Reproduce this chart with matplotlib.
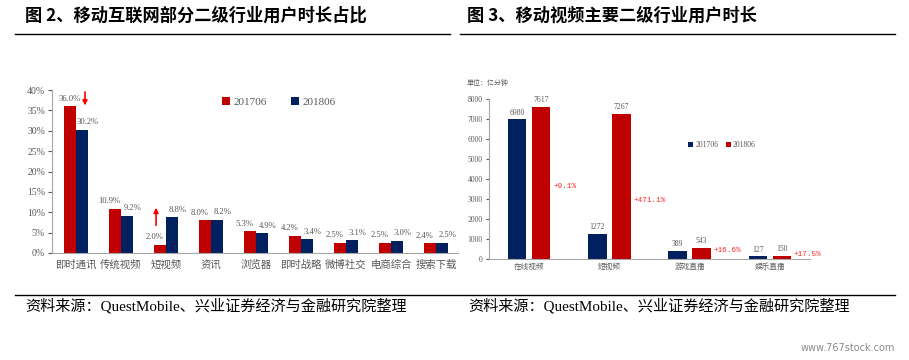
import matplotlib
matplotlib.use('Agg')
import matplotlib.pyplot as plt
from matplotlib.lines import Line2D
import numpy as np

plt.rcParams['font.family'] = ['Noto Sans CJK SC', 'DejaVu Sans']

# left chart data: share of time by sub-industry
cats_l = ['即时通讯', '传统视频', '短视频', '资讯', '浏览器', '即时战略', '微博社交', '电商综合', '搜索下载']
share_1706 = [36.0, 10.9, 2.0, 8.0, 5.3, 4.2, 2.5, 2.5, 2.4]
share_1806 = [30.2, 9.2, 8.8, 8.2, 4.9, 3.4, 3.1, 3.0, 2.5]

# right chart data: video sub-industry time (100M minutes)
cats_r = ['在线视频', '短视频', '游戏直播', '娱乐直播']
time_1706 = [6980, 1272, 389, 127]
time_1806 = [7617, 7267, 543, 150]
growth = ['+9.1%', '+471.1%', '+16.6%', '+17.5%']
growth_y = [3650, 2900, 450, 250]

RED = '#C00000'
NAVY = '#002060'
GRAY = '#595959'
W, H = 909, 360

fig = plt.figure(figsize=(W / 100, H / 100), dpi=100)
fig.patch.set_facecolor('white')

def box(l, t, r, b):
    return [l / W, 1 - b / H, (r - l) / W, (b - t) / H]

def hline(x0, x1, y, lw=1.0):
    fig.add_artist(Line2D([x0 / W, x1 / W], [1 - y / H, 1 - y / H], color='black', lw=lw))

# titles, rules, sources
fig.text(25 / W, 1 - 16 / H, '图 2、移动互联网部分二级行业用户时长占比', fontsize=12.4,
         fontweight='bold', va='center', ha='left')
fig.text(467 / W, 1 - 16 / H, '图 3、移动视频主要二级行业用户时长', fontsize=12.4,
         fontweight='bold', va='center', ha='left')
hline(15, 450, 34)
hline(460, 895, 34)
hline(15, 895, 295)
src = '资料来源：QuestMobile、兴业证券经济与金融研究院整理'
fig.text(25 / W, 1 - 306 / H, src, fontsize=10.9, va='center', ha='left',
         family=['Liberation Serif', 'Noto Sans CJK SC'])
fig.text(468 / W, 1 - 306 / H, src, fontsize=10.9, va='center', ha='left',
         family=['Liberation Serif', 'Noto Sans CJK SC'])
fig.text(895 / W, 1 - 348 / H, 'www.767stock.com', fontsize=7, color='#8a8a8a',
         va='center', ha='right', family='DejaVu Sans')

# ---------- left chart ----------
ax = fig.add_axes(box(52, 90, 458, 253))
x = np.arange(len(cats_l))
w = 0.27
b1 = ax.bar(x - 0.14, [v / 100 for v in share_1706], w, color=RED, label='201706')
b2 = ax.bar(x + 0.14, [v / 100 for v in share_1806], w, color=NAVY, label='201806')
for bars, vals, dx in ((b1, share_1706, -3.6), (b2, share_1806, 3.6)):
    for i, (r, v) in enumerate(zip(bars, vals)):
        off = 0 if i == 0 and dx < 0 else dx
        t = ax.annotate('%.1f%%' % v, (r.get_x() + r.get_width() / 2, r.get_height()),
                        xytext=(off, 2.5), textcoords='offset points', ha='center', va='bottom',
                        fontsize=6.2, color=GRAY, family='Liberation Serif')
        if i == len(vals) - 1:
            t.set_clip_on(True)
ax.set_xlim(-0.533, 8.49)
ax.set_ylim(0, 0.40)
ax.set_yticks(np.arange(0, 0.41, 0.05))
ax.set_yticklabels(['%d%%' % v for v in range(0, 41, 5)], family='Liberation Serif')
ax.set_xticks(x)
ax.set_xticklabels(cats_l)
ax.tick_params(axis='y', labelsize=7, colors=GRAY, length=3, direction='out', pad=2)
ax.tick_params(axis='x', labelsize=7.5, colors=GRAY, length=0, pad=5)
for s in ('top', 'right'):
    ax.spines[s].set_visible(False)
for s in ('left', 'bottom'):
    ax.spines[s].set_color('#a6a6a6')
ax.annotate('', xy=(0.2, 0.355), xytext=(0.2, 0.402),
            arrowprops=dict(arrowstyle='-|>', color='red', lw=1.2, mutation_scale=7),
            annotation_clip=False)
ax.annotate('', xy=(1.78, 0.118), xytext=(1.78, 0.061),
            arrowprops=dict(arrowstyle='-|>', color='red', lw=1.2, mutation_scale=7))
ax.legend(loc='upper left', bbox_to_anchor=(0.395, 1.02), ncol=2, frameon=False,
          handlelength=0.7, handleheight=0.7, handletextpad=0.3, columnspacing=2.2,
          prop={'family': 'Liberation Serif', 'size': 8}, labelcolor=GRAY)

# ---------- right chart ----------
ax2 = fig.add_axes(box(489, 99, 810, 259))
xr = np.arange(len(cats_r))
w2 = 0.23
c1 = ax2.bar(xr - 0.15, time_1706, w2, color=NAVY, label='201706')
c2 = ax2.bar(xr + 0.15, time_1806, w2, color=RED, label='201806')
for bars, vals in ((c1, time_1706), (c2, time_1806)):
    for r, v in zip(bars, vals):
        ax2.annotate('%d' % v, (r.get_x() + r.get_width() / 2, r.get_height()),
                     xytext=(0, 2), textcoords='offset points', ha='center', va='bottom',
                     fontsize=5.5, color=GRAY, family='Liberation Serif')
for i, (g, gy) in enumerate(zip(growth, growth_y)):
    ax2.text(i + 0.3, gy, g, fontsize=5.5, color='#FF2020', ha='left', va='center',
             family='Liberation Mono')
ax2.set_xlim(-0.5, 3.5)
ax2.set_ylim(0, 8000)
ax2.set_yticks(np.arange(0, 8001, 1000))
ax2.set_xticks(xr)
ax2.set_xticklabels(cats_r)
for lab in ax2.get_yticklabels():
    lab.set_family('Liberation Serif')
ax2.tick_params(axis='y', labelsize=5.5, colors=GRAY, length=2.5, direction='out', pad=2)
ax2.tick_params(axis='x', labelsize=5.5, colors=GRAY, length=0, pad=3)
for s in ('top', 'right'):
    ax2.spines[s].set_visible(False)
for s in ('left', 'bottom'):
    ax2.spines[s].set_color('#a6a6a6')
ax2.legend(loc='center left', bbox_to_anchor=(0.6, 0.71), ncol=2, frameon=False,
           handlelength=0.6, handleheight=0.6, handletextpad=0.3, columnspacing=1.0,
           prop={'family': 'Liberation Serif', 'size': 5.5}, labelcolor=GRAY)
fig.text(467 / W, 1 - 83 / H, '单位：亿分钟', fontsize=5, color=GRAY, va='center', ha='left')

fig.savefig('out.png', dpi=100)
